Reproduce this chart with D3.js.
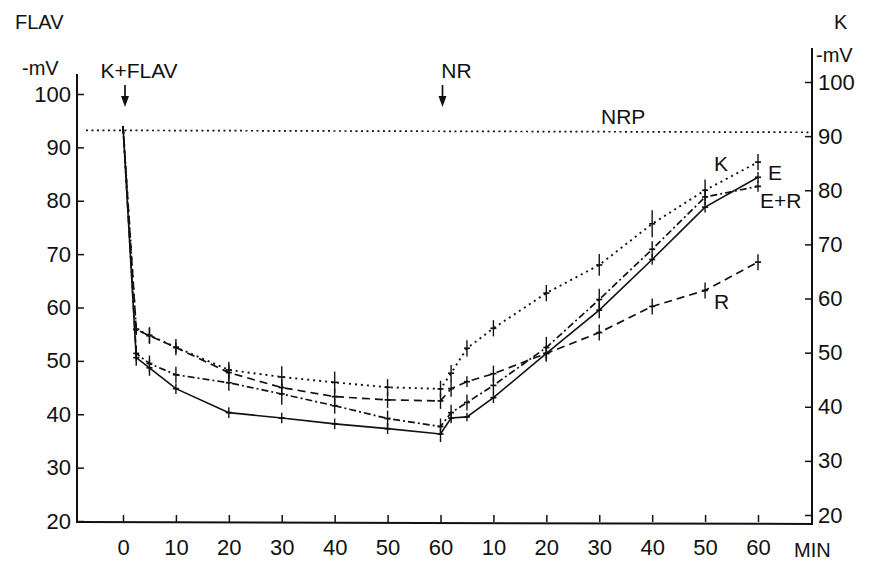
<!DOCTYPE html>
<html>
<head>
<meta charset="utf-8">
<script src="https://cdn.jsdelivr.net/npm/d3@7"></script>
<style>
body{margin:0;background:#fff;}
text{font-family:"Liberation Sans Narrow","Arial Narrow","Liberation Sans",sans-serif;fill:#111;}
</style>
</head>
<body>
<div class="graph-bd"></div>
<script>
// minutes on one axis: 0-60 after K+FLAV, 60-120 = 0-60 min after NR
var minutes = [0, 2.5, 5, 10, 20, 30, 40, 50, 60, 62, 65, 70, 80, 90, 100, 110, 120];
// K (right axis, dotted)
var kVals  = [91.9, 54.3, 53.2, 51.0, 46.8, 45.5, 44.5, 43.6, 43.3, 46.2, 50.8, 54.5, 61.0, 66.2, 73.8, 80.0, 85.2];
var kErr   = [0, 1, 1.5, 1.5, 1.5, 2, 2, 1.5, 1.5, 1.5, 1.5, 1.5, 1.5, 2, 2.5, 2, 1.5];
// E (left axis, solid)
var eVals  = [94.0, 50.6, 48.7, 44.8, 40.3, 39.3, 38.2, 37.3, 36.3, 39.3, 39.5, 43.1, 51.4, 59.5, 69.0, 78.8, 84.4];
var eErr   = [0, 1.5, 1.5, 1, 1, 1, 1, 1, 1.5, 1, 0.8, 1, 1.5, 1.5, 1, 1, 1];
// E+R (left axis, dash-dot)
var erVals = [94.0, 51.4, 49.5, 47.4, 45.9, 43.8, 41.6, 39.2, 37.7, 40.3, 42.2, 45.4, 52.5, 61.5, 70.9, 80.7, 82.7];
var erErr  = [0, 1.5, 1.5, 1.5, 1.5, 2, 1.5, 1.5, 1.5, 1.5, 1.5, 1.5, 2, 2, 1.5, 1.5, 1];
// R (left axis, dashed)
var rVals  = [94.0, 55.9, 54.7, 52.5, 47.8, 45.0, 43.3, 42.7, 42.5, 44.8, 46.1, 47.6, 51.4, 55.3, 60.2, 63.2, 68.5];
var rErr   = [0, 1, 1.5, 1, 1.5, 1.5, 1.5, 1.5, 1.5, 1.5, 1, 1.5, 1.5, 1.5, 1.5, 1.5, 1.5];

var mvTicks = [20, 30, 40, 50, 60, 70, 80, 90, 100];
var minTicks = [0, 10, 20, 30, 40, 50, 60, 70, 80, 90, 100, 110, 120];
var nrp = 93.2;

var width = 871, height = 562;
var axL = 77, axR = 812, axB = 522;

var x = d3.scaleLinear().domain([0, 120]).range([123, 758]);
var yL = d3.scaleLinear().domain([20, 100]).range([521, 94]);
var yR = d3.scaleLinear().domain([20, 100]).range([515, 82]);

var svg = d3.select(".graph-bd").append("svg")
    .attr("width", width)
    .attr("height", height);

var series = [
    {name: "K",   vals: kVals,  err: kErr,  y: yR, dash: "2,4",     w: 1.9},
    {name: "E",   vals: eVals,  err: eErr,  y: yL, dash: null,      w: 1.6},
    {name: "E+R", vals: erVals, err: erErr, y: yL, dash: "7,3,2,3", w: 1.7},
    {name: "R",   vals: rVals,  err: rErr,  y: yL, dash: "8,5",     w: 1.7}
];

// axes
svg.append("line").attr("x1", axL).attr("x2", axL).attr("y1", 74).attr("y2", axB + 1)
    .attr("stroke", "#111").attr("stroke-width", 2);
svg.append("line").attr("x1", axR).attr("x2", axR).attr("y1", 48).attr("y2", axB + 3)
    .attr("stroke", "#111").attr("stroke-width", 2);
svg.append("line").attr("x1", axL).attr("x2", axR).attr("y1", axB).attr("y2", axB + 2)
    .attr("stroke", "#111").attr("stroke-width", 2);

var gl = svg.append("g").attr("transform", "translate(" + axL + ",0)")
    .call(d3.axisLeft(yL).tickValues(mvTicks).tickSize(-7).tickPadding(6));
var gr = svg.append("g").attr("transform", "translate(" + axR + ",0)")
    .call(d3.axisRight(yR).tickValues(mvTicks).tickSize(-7).tickPadding(6));
var gb = svg.append("g").attr("transform", "translate(0," + axB + ")")
    .call(d3.axisBottom(x).tickValues(minTicks).tickSize(-7).tickPadding(17)
        .tickFormat(function(d) { return d > 60 ? d - 60 : d; }));
[gl, gr, gb].forEach(function(g) {
    g.select(".domain").remove();
    g.selectAll("line").attr("stroke", "#111").attr("stroke-width", 1.5);
    g.selectAll("text").attr("font-size", "22px").attr("fill", "#111")
        .style("font-family", "'Liberation Sans Narrow','Arial Narrow','Liberation Sans',sans-serif");
});

// axis titles
svg.append("text").attr("x", 15).attr("y", 29).attr("font-size", "20px").text("FLAV");
svg.append("text").attr("x", 22).attr("y", 75).attr("font-size", "20px").text("-mV");
svg.append("text").attr("x", 834).attr("y", 29).attr("font-size", "20px").text("K");
svg.append("text").attr("x", 816).attr("y", 62).attr("font-size", "20px").text("-mV");
svg.append("text").attr("x", 794).attr("y", 557).attr("font-size", "20px").text("MIN");

// NRP line
svg.append("line")
    .attr("x1", x(-7)).attr("x2", axR)
    .attr("y1", yL(nrp)).attr("y2", yL(nrp) + 2)
    .attr("stroke", "#111").attr("stroke-width", 1.7)
    .attr("stroke-dasharray", "2,3.5");
svg.append("text").attr("x", 601).attr("y", yL(nrp) - 6).attr("font-size", "21px").text("NRP");

// arrows for K+FLAV and NR
function arrow(xv, label) {
    var xa = x(xv) + 2;
    svg.append("text").attr("x", xa + 14).attr("y", 78).attr("text-anchor", "middle")
        .attr("font-size", "21px").text(label);
    svg.append("line").attr("x1", xa).attr("x2", xa).attr("y1", 85).attr("y2", 103)
        .attr("stroke", "#111").attr("stroke-width", 1.7);
    svg.append("path").attr("d", "M" + (xa - 4) + ",96L" + xa + ",107L" + (xa + 4) + ",96Z")
        .attr("fill", "#111");
}
arrow(0, "K+FLAV");
arrow(60, "NR");

// lines
series.forEach(function(s) {
    var line = d3.line()
        .x(function(d, i) { return x(minutes[i]); })
        .y(function(d) { return s.y(d); });
    svg.append("path")
        .datum(s.vals)
        .attr("d", line)
        .attr("fill", "none")
        .attr("stroke", "#111")
        .attr("stroke-width", s.w)
        .attr("stroke-dasharray", s.dash);

    // error bars with small cross marks
    var g = svg.append("g");
    s.vals.forEach(function(v, i) {
        if (s.err[i] == 0) return;
        var xx = x(minutes[i]);
        g.append("line").attr("x1", xx).attr("x2", xx)
            .attr("y1", s.y(v + s.err[i])).attr("y2", s.y(v - s.err[i]))
            .attr("stroke", "#111").attr("stroke-width", 1.4);
        g.append("line").attr("x1", xx - 3).attr("x2", xx + 3)
            .attr("y1", s.y(v)).attr("y2", s.y(v))
            .attr("stroke", "#111").attr("stroke-width", 1.7);
    });
});

// series labels next to the last points
var last = minutes.length - 1;
svg.append("text").attr("x", x(minutes[last]) - 44).attr("y", yR(kVals[last]) + 9)
    .attr("font-size", "21px").text("K");
svg.append("text").attr("x", x(minutes[last]) + 10).attr("y", yL(eVals[last]) + 3)
    .attr("font-size", "21px").text("E");
svg.append("text").attr("x", x(minutes[last]) + 2).attr("y", yL(erVals[last]) + 22)
    .attr("font-size", "21px").text("E+R");
svg.append("text").attr("x", x(minutes[last]) - 44).attr("y", yL(rVals[last]) + 47)
    .attr("font-size", "21px").text("R");
</script>
</body>
</html>
